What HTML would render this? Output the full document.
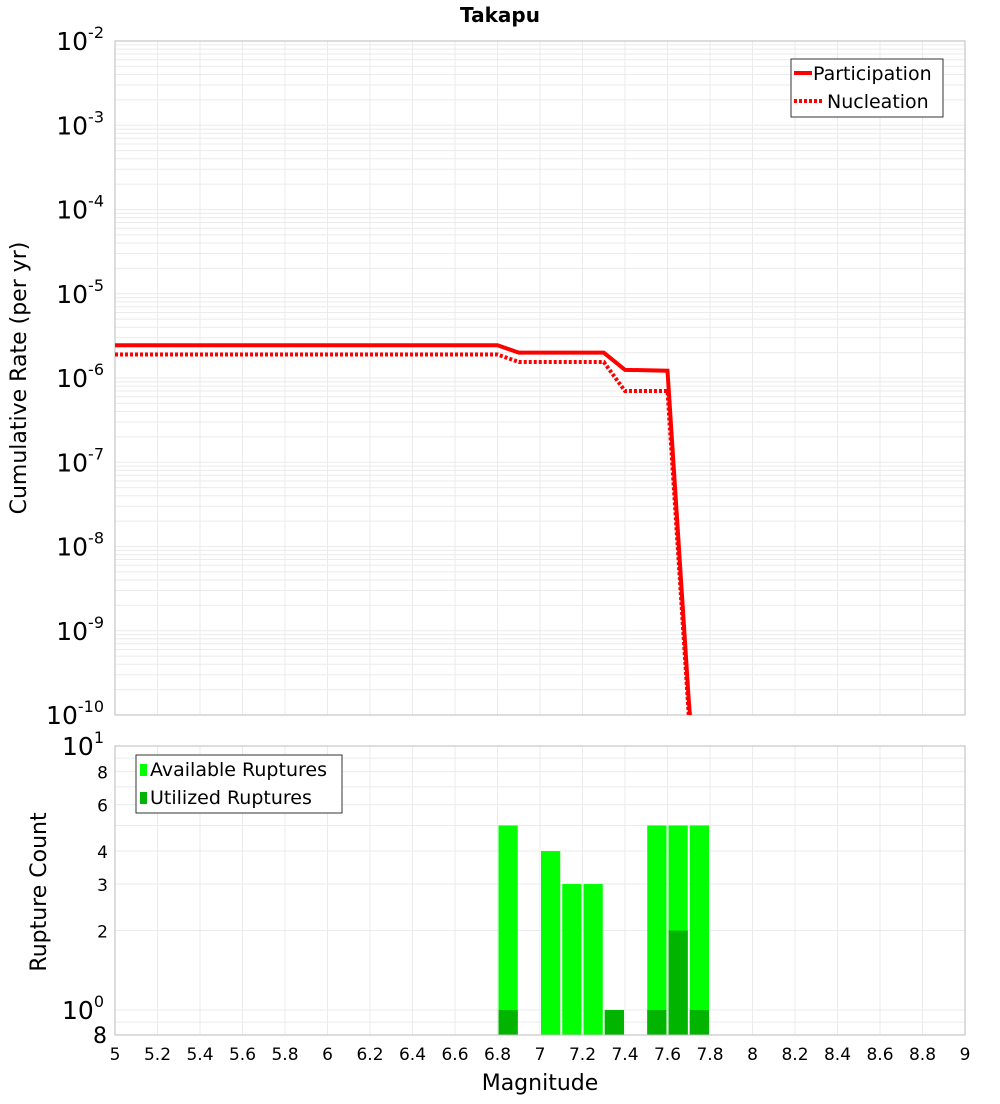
<!DOCTYPE html>
<html><head><meta charset="utf-8"><style>
body{margin:0;background:#fff;font-family:"DejaVu Sans","Liberation Sans",sans-serif}
svg text{font-family:"DejaVu Sans","Liberation Sans",sans-serif}
</style></head><body>
<svg id="c" width="1000" height="1100" xmlns="http://www.w3.org/2000/svg"></svg>
<script>
const partMags=[5,6.8,6.9,7.3,7.4,7.6,7.7,7.8];
const partRates=[2.45e-6,2.45e-6,2.0e-6,2.0e-6,1.25e-6,1.22e-6,1.5e-10,1e-13];
const nuclMags=[5,6.8,6.9,7.3,7.4,7.6,7.7,7.8];
const nuclRates=[1.9e-6,1.9e-6,1.55e-6,1.55e-6,7e-7,7e-7,1e-10,1e-13];
const binMags=[6.8,7.0,7.1,7.2,7.3,7.5,7.6,7.7];
const availCounts=[5,4,3,3,1,5,5,5];
const usedCounts=[1,0,0,0,1,1,2,1];
const xTicks=[5,5.2,5.4,5.6,5.8,6,6.2,6.4,6.6,6.8,7,7.2,7.4,7.6,7.8,8,8.2,8.4,8.6,8.8,9];
const yTopExps=[-2,-3,-4,-5,-6,-7,-8,-9,-10];
const yBotTicks=[2,3,4,6,8];

const NS="http://www.w3.org/2000/svg";
const svg=document.getElementById('c');
function mk(t,a,p){const e=document.createElementNS(NS,t);for(const k in a)e.setAttribute(k,a[k]);(p||svg).appendChild(e);return e;}
const X0=115,X1=965;
const xs=m=>X0+(m-5)/4*(X1-X0);
const T0=41,T1=715;
const yT=v=>T0+(-2-Math.log10(v))*(T1-T0)/8;
const B0=746,B1=1035;
const yB=v=>1010-Math.log10(v)*264;

// clip paths
const defs=mk('defs',{});
const cp=mk('clipPath',{id:'ct'},defs);mk('rect',{x:X0,y:T0,width:X1-X0,height:T1-T0},cp);
const cb=mk('clipPath',{id:'cb'},defs);mk('rect',{x:X0,y:B0,width:X1-X0,height:B1-B0},cb);

// title
let t=mk('text',{x:500,y:22,'text-anchor':'middle','font-size':20,'font-weight':'bold'});t.textContent='Takapu';


// top grid
const gT=mk('g',{'clip-path':'url(#ct)',stroke:'#ebebeb','stroke-width':1});

for(let e=-10;e<-2;e++)for(let k=1;k<10;k++){const y=yT(k*Math.pow(10,e));mk('line',{x1:X0,x2:X1,y1:y,y2:y},gT);}
xTicks.forEach(m=>mk('line',{x1:xs(m),x2:xs(m),y1:T0,y2:T1},gT));
const ft=mk('rect',{x:X0,y:T0,width:X1-X0,height:T1-T0,fill:'none',stroke:'#bbb'});


// top y labels
yTopExps.forEach(e=>{const y=yT(Math.pow(10,e));const tx=mk('text',{x:104,y:y+9,'text-anchor':'end','font-size':25});

tx.innerHTML='10<tspan dy="-12" font-size="16">'+e+'</tspan>';});
t=mk('text',{x:26,y:378,'text-anchor':'middle','font-size':22,transform:'rotate(-90 26 378)'});t.textContent='Cumulative Rate (per yr)';


// lines
function line(ms,rs,dash,name){const p=ms.map((m,i)=>xs(m)+','+yT(rs[i])).join(' ');
const el=mk('polyline',{points:p,fill:'none',stroke:'#f00','stroke-width':4,'stroke-dasharray':dash,'clip-path':'url(#ct)'});
}
line(nuclMags,nuclRates,'3,2','nucleation-line');
line(partMags,partRates,'none','participation-line');

// top legend
const lg=mk('g',{});
mk('rect',{x:791,y:59,width:152,height:58,fill:'#fff',stroke:'#333'},lg);
mk('line',{x1:794,x2:812,y1:73,y2:73,stroke:'#f00','stroke-width':4},lg);
mk('line',{x1:794,x2:822,y1:101,y2:101,stroke:'#f00','stroke-width':4,'stroke-dasharray':'3,2'},lg);
t=mk('text',{x:813,y:80,'font-size':19},lg);t.textContent='Participation';
t=mk('text',{x:827,y:108,'font-size':19},lg);t.textContent='Nucleation';

// bottom grid
const gB=mk('g',{'clip-path':'url(#cb)',stroke:'#ebebeb'});

[0.8,0.9,1,2,3,4,5,6,7,8,9,10].forEach(v=>mk('line',{x1:X0,x2:X1,y1:yB(v),y2:yB(v)},gB));
xTicks.forEach(m=>mk('line',{x1:xs(m),x2:xs(m),y1:B0,y2:B1},gB));

// bars
const gBar=mk('g',{'clip-path':'url(#cb)'});
binMags.forEach((m,i)=>{const x=xs(m)+1,w=xs(m+0.1)-xs(m)-2;
const r=mk('rect',{x:x,y:yB(availCounts[i]),width:w,height:B1-yB(availCounts[i]),fill:'#00ff00'},gBar);

if(usedCounts[i]>0){const u=mk('rect',{x:x,y:yB(usedCounts[i]),width:w,height:B1-yB(usedCounts[i]),fill:'#00b400'},gBar);
}});
const fb=mk('rect',{x:X0,y:B0,width:X1-X0,height:B1-B0,fill:'none',stroke:'#bbb'});


// bottom y labels
[[10,'1'],[1,'0']].forEach(([v,e])=>{const tx=mk('text',{x:104,y:yB(v)+9,'text-anchor':'end','font-size':25});

tx.innerHTML='10<tspan dy="-12" font-size="16">'+e+'</tspan>';});
yBotTicks.forEach(v=>{const tx=mk('text',{x:108,y:yB(v)+7,'text-anchor':'end','font-size':17});tx.textContent=v;
});
t=mk('text',{x:107,y:1043,'text-anchor':'end','font-size':22});t.textContent='8';

t=mk('text',{x:46,y:892,'text-anchor':'middle','font-size':22,transform:'rotate(-90 46 892)'});t.textContent='Rupture Count';


// x labels
xTicks.forEach(m=>{const tx=mk('text',{x:xs(m),y:1060,'text-anchor':'middle','font-size':17});tx.textContent=String(m);
});
t=mk('text',{x:540,y:1090,'text-anchor':'middle','font-size':22});t.textContent='Magnitude';


// bottom legend
const lb=mk('g',{});
mk('rect',{x:136,y:755,width:206,height:58,fill:'#fff',stroke:'#333'},lb);
mk('rect',{x:140,y:764,width:7,height:12,fill:'#00ff00'},lb);
mk('rect',{x:140,y:792,width:7,height:12,fill:'#00b400'},lb);
t=mk('text',{x:150,y:776,'font-size':19},lb);t.textContent='Available Ruptures';
t=mk('text',{x:150,y:804,'font-size':19},lb);t.textContent='Utilized Ruptures';
</script>
</body></html>
